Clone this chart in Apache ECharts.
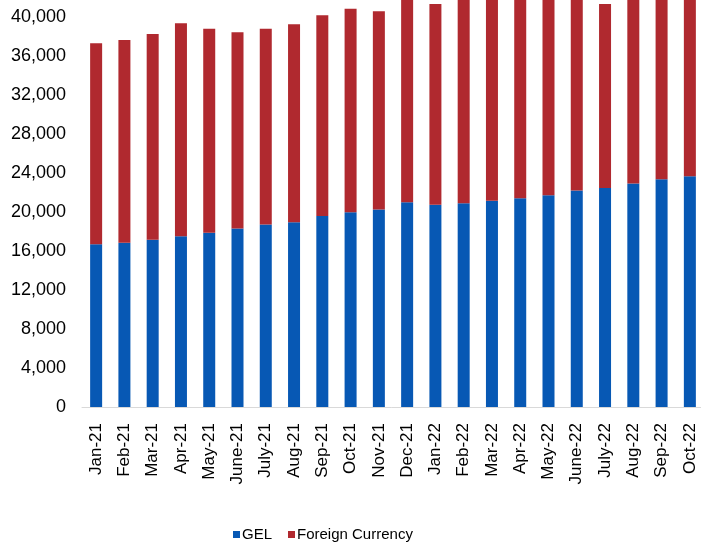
<!DOCTYPE html>
<html>
<head>
<meta charset="utf-8">
<script src="https://cdn.jsdelivr.net/npm/echarts@6/dist/echarts.min.js"></script>
<style>
  html, body { margin: 0; padding: 0; background: #fff; }
  #chart { width: 701px; height: 543px; }
</style>
</head>
<body>
<div id="chart"></div>
<script>
const months = ['Jan-21', 'Feb-21', 'Mar-21', 'Apr-21', 'May-21', 'June-21', 'July-21', 'Aug-21', 'Sep-21', 'Oct-21', 'Nov-21', 'Dec-21',
  'Jan-22', 'Feb-22', 'Mar-22', 'Apr-22', 'May-22', 'June-22', 'July-22', 'Aug-22', 'Sep-22', 'Oct-22']
const gelValues = [16700, 16850, 17150, 17520, 17870, 18310, 18720, 18960, 19600, 19980, 20260, 21000,
  20750, 20900, 21150, 21400, 21720, 22200, 22470, 22920, 23360, 23660]
const foreignValues = [20600, 20800, 21110, 21830, 20930, 20120, 20080, 20290, 20570, 20870, 20340, 21500,
  20580, 21300, 21350, 21200, 21000, 20800, 18860, 20100, 19900, 19800]
const seriesNames = ['GEL', 'Foreign Currency']

const colorList = ['#0758b4', '#b0292f']
const font = 'Liberation Sans, Arial, sans-serif'

const chart = echarts.init(document.getElementById('chart'))
chart.setOption({
  animation: false,
  color: colorList,
  legend: {
    data: seriesNames,
    left: 228,
    bottom: -4,
    icon: 'rect',
    itemWidth: 7,
    itemHeight: 7,
    itemGap: 16,
    textStyle: {
      color: '#000',
      fontFamily: font,
      fontSize: 15,
      padding: [0, 0, 0, -3]
    }
  },
  // top of the plot is cut off like in the source image
  grid: {
    left: 82,
    right: -3,
    top: -22,
    bottom: 136,
    outerBoundsMode: 'none'
  },
  xAxis: {
    type: 'category',
    data: months,
    axisLine: {
      lineStyle: { color: '#d9d9d9', width: 1 }
    },
    axisTick: { show: false },
    axisLabel: {
      interval: 0,
      rotate: 90,
      margin: 16,
      color: '#000',
      fontFamily: font,
      fontSize: 17
    }
  },
  yAxis: {
    type: 'value',
    min: 0,
    max: 44000,
    interval: 4000,
    axisLine: { show: false },
    axisTick: { show: false },
    splitLine: { show: false },
    axisLabel: {
      margin: 16,
      color: '#000',
      fontFamily: font,
      fontSize: 18,
      formatter: v => v.toLocaleString('en-US')
    }
  },
  series: [{
    name: seriesNames[0],
    type: 'bar',
    stack: 'total',
    barWidth: 12,
    data: gelValues
  }, {
    name: seriesNames[1],
    type: 'bar',
    stack: 'total',
    barWidth: 12,
    data: foreignValues
  }]
})
</script>
</body>
</html>
